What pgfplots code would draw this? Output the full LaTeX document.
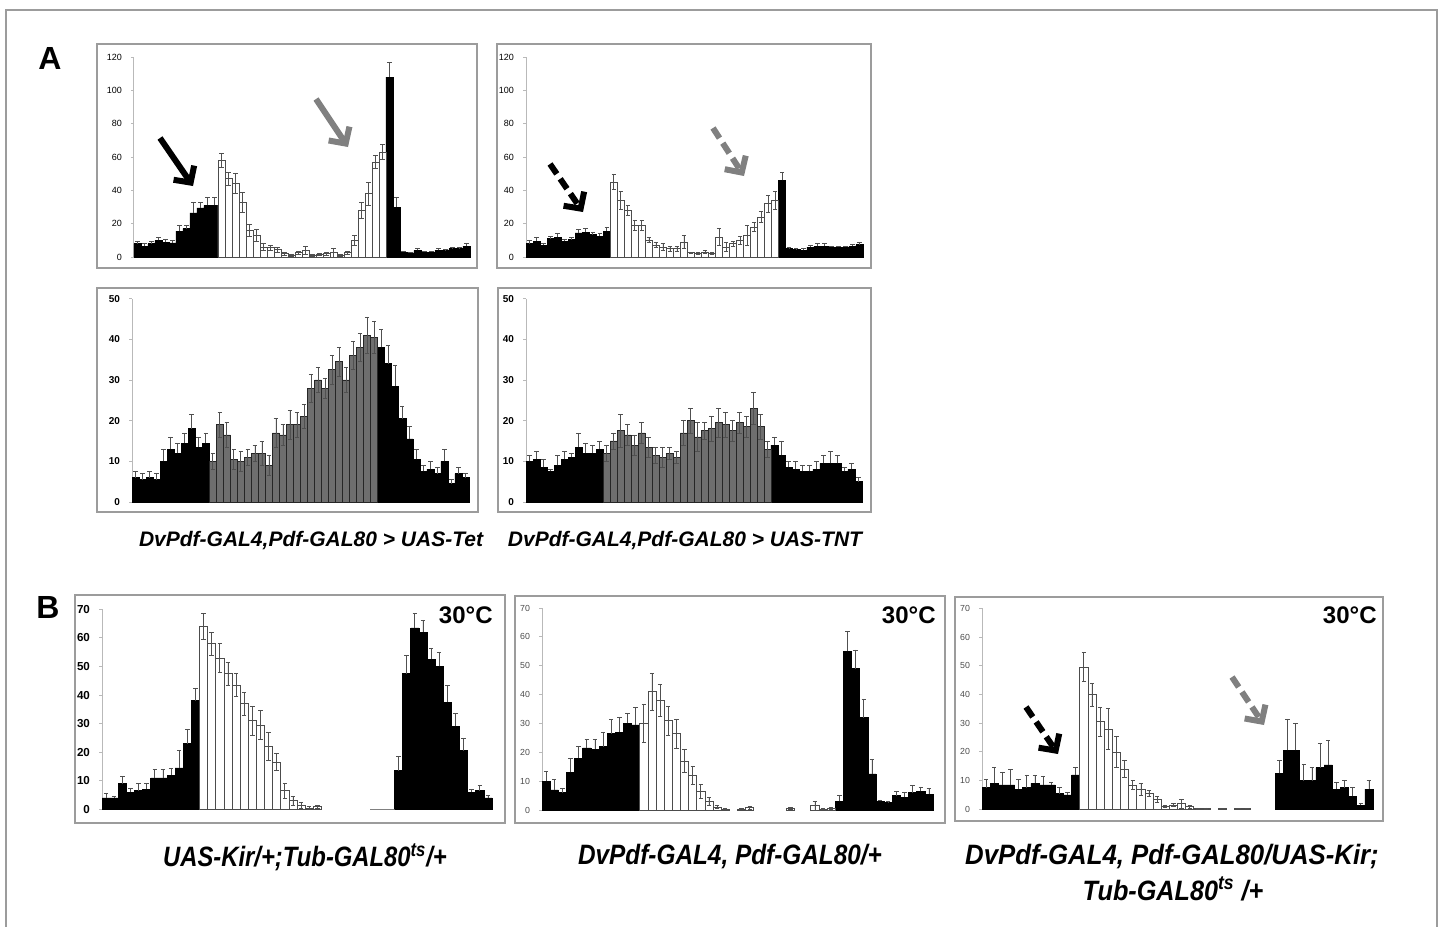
\documentclass[border=0pt]{standalone}
\usepackage{fontspec}
\setmainfont{Liberation Sans}
\usepackage{graphicx}
\usepackage{pgfplots}
\pgfplotsset{compat=1.18}
\usetikzlibrary{arrows.meta}

\definecolor{framegray}{HTML}{9C9C9C}
\definecolor{bargray}{HTML}{6E6E6E}
\definecolor{arrowgray}{HTML}{808080}
\definecolor{errgray}{HTML}{505050}

\pgfplotsset{
  actogram/.style={
    scale only axis, anchor=south west,
    xmin=-0.5, xmax=47.5, ymin=0,
    axis y line=left, axis x line=bottom,
    axis line style={-, draw=gray!55, line width=0.5pt},
    xtick=\empty,
    tick align=outside, major tick length=1.5pt,
    ytick style={draw=gray!55, line width=0.4pt},
    /pgf/number format/assume math mode=true,
    yticklabel style={xshift=-1pt},
    clip=false,
  },
  night/.style={ybar, bar width=1, bar shift=0pt, fill=black, draw=black, line width=0.3pt,
    error bars/.cd, y dir=plus, y explicit,
    error bar style={errgray, line width=0.35pt},
    error mark options={errgray, rotate=90, mark size=1.1pt, line width=0.35pt}},
  day/.style={ybar, bar width=1, bar shift=0pt, fill=white, draw=black!70, line width=0.35pt,
    error bars/.cd, y dir=both, y explicit,
    error bar style={errgray, line width=0.35pt},
    error mark options={errgray, rotate=90, mark size=1.1pt, line width=0.35pt}},
  dim/.style={ybar, bar width=1, bar shift=0pt, fill=bargray, draw=black!85, line width=0.35pt,
    error bars/.cd, y dir=both, y explicit,
    error bar style={errgray, line width=0.35pt},
    error mark options={errgray, rotate=90, mark size=1.1pt, line width=0.35pt}},
}
\tikzset{
  bigarrow/.style={line width=3pt, -{Straight Barb[length=6pt, width=12.5pt]}},
  dasharrow/.style={bigarrow, dash pattern=on 6pt off 3pt},
}

\begin{document}
\begin{tikzpicture}[x=0.5pt, y=-0.5pt]
\useasboundingbox (0,0) rectangle (1442,927);
\draw[framegray, line width=0.9pt] (6,927) -- (6,10) -- (1437,10) -- (1437,927);

% panel frames
\foreach \a/\b/\c/\d in {97/44/477/268, 497/44/871/268, 97/288/478/512, 498/288/871/512,
  75/595/505/823, 515/596/945/823, 955/597/1383/821}
  \draw[framegray, line width=0.9pt] (\a,\b) rectangle (\c,\d);

% lower left corners of the axis boxes
\coordinate (pTL) at (134,257);
\coordinate (pTR) at (526,257);
\coordinate (pBL) at (132,502);
\coordinate (pBR) at (526,502);
\coordinate (pB1) at (102,809.3);
\coordinate (pB2) at (542,810);
\coordinate (pB3) at (982,809.3);

\node[font=\bfseries\fontsize{16}{18}\selectfont] at (50,58) {A};
\node[font=\bfseries\fontsize{16}{18}\selectfont] at (48,607) {B};

% ---------------- A, top left (UAS-Tet, LD) ----------------
\begin{axis}[actogram, at={(pTL)}, width=168pt, height=100pt,
  ymax=120, ytick={0,20,...,120},
  yticklabel style={font=\fontsize{4.5}{5}\selectfont}]
\addplot[night] coordinates {
 (0,8)+-(0,1.5) (1,6.5)+-(0,1.5) (2,8)+-(0,1.5) (3,10)+-(0,1.5) (4,9)+-(0,1.5) (5,8.5)+-(0,1.5)
 (6,15.5)+-(0,3.5) (7,17)+-(0,2) (8,26.5)+-(0,6) (9,29.5)+-(0,3) (10,31)+-(0,4.5) (11,31)+-(0,4.5)
 (36,108)+-(0,9) (37,30)+-(0,6) (38,3)+-(0,0.5) (39,2.5)+-(0,0.5) (40,4)+-(0,1) (41,3)+-(0,0.5)
 (42,3)+-(0,0.5) (43,4)+-(0,1) (44,4)+-(0,0.5) (45,5)+-(0,1) (46,5)+-(0,1) (47,6.5)+-(0,1.5)};
\addplot[day] coordinates {
 (12,58)+-(0,4) (13,47)+-(0,4) (14,44)+-(0,6) (15,33)+-(0,6) (16,16)+-(0,3.5) (17,13)+-(0,3.5)
 (18,6)+-(0,2) (19,5.5)+-(0,1.5) (20,4.5)+-(0,1.5) (21,2)+-(0,1) (22,1)+-(0,0.5) (23,2.5)+-(0,1)
 (24,4)+-(0,2.5) (25,1)+-(0,0.5) (26,1.5)+-(0,0.5) (27,2)+-(0,1) (28,2.5)+-(0,2.5) (29,1)+-(0,0.5)
 (30,2.5)+-(0,1) (31,10)+-(0,3) (32,28)+-(0,5) (33,38)+-(0,7) (34,57)+-(0,4) (35,63)+-(0,4.5)};
\end{axis}

% ---------------- A, top right (UAS-TNT, LD) ----------------
\begin{axis}[actogram, at={(pTR)}, width=168.5pt, height=100pt,
  ymax=120, ytick={0,20,...,120},
  yticklabel style={font=\fontsize{4.5}{5}\selectfont}]
\addplot[night] coordinates {
 (0,8)+-(0,2) (1,9.5)+-(0,2.5) (2,7)+-(0,1) (3,11)+-(0,1.5) (4,12)+-(0,2) (5,9.5)+-(0,1)
 (6,10.5)+-(0,1.5) (7,14.5)+-(0,2) (8,15)+-(0,2) (9,13.5)+-(0,1.5) (10,12.5)+-(0,1.5) (11,15.5)+-(0,2.5)
 (36,46)+-(0,5) (37,5)+-(0,1) (38,4.5)+-(0,0.5) (39,4)+-(0,1) (40,6)+-(0,1) (41,6.5)+-(0,1.5)
 (42,6.5)+-(0,1.5) (43,6)+-(0,0.5) (44,6)+-(0,0.5) (45,6)+-(0,0.5) (46,6.5)+-(0,1) (47,7.5)+-(0,1.5)};
\addplot[day] coordinates {
 (12,45)+-(0,4.5) (13,34)+-(0,5.5) (14,28)+-(0,3) (15,19)+-(0,3) (16,19)+-(0,3) (17,10)+-(0,1.5)
 (18,7)+-(0,1.5) (19,6)+-(0,2) (20,5)+-(0,1.5) (21,5)+-(0,1.5) (22,9)+-(0,4) (23,2.5)+-(0,0.5)
 (24,2)+-(0,0.5) (25,3)+-(0,1) (26,2)+-(0,0.5) (27,12)+-(0,5) (28,6)+-(0,2.5) (29,8)+-(0,1.5)
 (30,10)+-(0,2.5) (31,13)+-(0,6) (32,18)+-(0,2.5) (33,24)+-(0,3.5) (34,32)+-(0,5) (35,34)+-(0,5.5)};
\end{axis}

% ---------------- A, bottom left (UAS-Tet, DD) ----------------
\begin{axis}[actogram, at={(pBL)}, width=168.5pt, height=101.7pt,
  ymax=50, ytick={0,10,...,50},
  yticklabel style={font=\bfseries\fontsize{5}{6}\selectfont}]
\addplot[night] coordinates {
 (0,6)+-(0,1.5) (1,5.5)+-(0,1.5) (2,6)+-(0,1.5) (3,5.5)+-(0,1.5) (4,10)+-(0,3) (5,13)+-(0,3)
 (6,12)+-(0,2.5) (7,14.5)+-(0,2.5) (8,18)+-(0,3.5) (9,13.5)+-(0,2.5) (10,14.5)+-(0,2.5)
 (35,38)+-(0,4.5) (36,34)+-(0,4.5) (37,28.5)+-(0,5) (38,20.5)+-(0,3) (39,15.5)+-(0,3) (40,10.5)+-(0,2.5)
 (41,7.5)+-(0,1.5) (42,8)+-(0,2) (43,7)+-(0,1.5) (44,10)+-(0,3) (45,4.5)+-(0,1) (46,7)+-(0,1.5) (47,6)+-(0,1)};
\addplot[dim] coordinates {
 (11,10)+-(0,2) (12,19)+-(0,3) (13,16.5)+-(0,3) (14,10.5)+-(0,2.5) (15,10)+-(0,2.5) (16,11)+-(0,2)
 (17,12)+-(0,2) (18,12)+-(0,3) (19,9)+-(0,2.5) (20,17)+-(0,3.5) (21,16.5)+-(0,2.5) (22,19)+-(0,3.5)
 (23,19)+-(0,3) (24,21)+-(0,3) (25,28)+-(0,3.5) (26,30)+-(0,3) (27,28)+-(0,2.5) (28,32.5)+-(0,3.5)
 (29,34.5)+-(0,3.5) (30,30)+-(0,3) (31,36)+-(0,3.5) (32,38)+-(0,3.5) (33,41)+-(0,4.5) (34,40.5)+-(0,4)};
\end{axis}

% ---------------- A, bottom right (UAS-TNT, DD) ----------------
\begin{axis}[actogram, at={(pBR)}, width=168pt, height=101.7pt,
  ymax=50, ytick={0,10,...,50},
  yticklabel style={font=\bfseries\fontsize{5}{6}\selectfont}]
\addplot[night] coordinates {
 (0,10)+-(0,1.5) (1,10.5)+-(0,2) (2,8.5)+-(0,2) (3,7.5)+-(0,0.5) (4,9)+-(0,2.5) (5,10.5)+-(0,2)
 (6,11)+-(0,1) (7,13.5)+-(0,3.5) (8,12)+-(0,2.5) (9,12)+-(0,2) (10,13)+-(0,2)
 (35,14)+-(0,2) (36,11.5)+-(0,3.5) (37,8.5)+-(0,1.5) (38,8)+-(0,2) (39,7.5)+-(0,1.5) (40,7.5)+-(0,1.5)
 (41,8)+-(0,2) (42,9.5)+-(0,2) (43,9.5)+-(0,3) (44,9.5)+-(0,2) (45,7.5)+-(0,1) (46,8)+-(0,1.5) (47,5)+-(0,1)};
\addplot[dim] coordinates {
 (11,12)+-(0,2) (12,15)+-(0,2) (13,17.5)+-(0,4) (14,16.5)+-(0,2.5) (15,14)+-(0,2.5) (16,17)+-(0,2.5)
 (17,13.5)+-(0,2.5) (18,11.5)+-(0,2) (19,11)+-(0,2.5) (20,12)+-(0,1.5) (21,11)+-(0,1.5) (22,17)+-(0,3)
 (23,20)+-(0,3) (24,16)+-(0,3.5) (25,17.5)+-(0,2) (26,18)+-(0,3) (27,19.5)+-(0,3.5) (28,19)+-(0,3)
 (29,17.5)+-(0,2.5) (30,19.5)+-(0,2.5) (31,18.5)+-(0,2.5) (32,23)+-(0,4) (33,18.5)+-(0,3) (34,13)+-(0,2)};
\end{axis}

% ---------------- B1: UAS-Kir/+;Tub-GAL80ts/+ ----------------
\begin{axis}[actogram, at={(pB1)}, width=195pt, height=100pt,
  axis x line=none,
  ymax=70, ytick={0,10,...,70},
  yticklabel style={font=\bfseries\fontsize{5.8}{6}\selectfont}]
\addplot[night] coordinates {
 (0,4)+-(0,1.5) (1,4)+-(0,0.5) (2,9)+-(0,2.5) (3,6)+-(0,1.5) (4,6.5)+-(0,2.5) (5,7)+-(0,2)
 (6,11)+-(0,3) (7,11)+-(0,3) (8,12)+-(0,2.5) (9,14.5)+-(0,6) (10,23)+-(0,5) (11,38)+-(0,4.5)
 (36,13.5)+-(0,5) (37,47.5)+-(0,6.5) (38,63.5)+-(0,5) (39,62)+-(0,4) (40,52.5)+-(0,4) (41,50)+-(0,5)
 (42,37.5)+-(0,6) (43,29)+-(0,4.5) (44,20.5)+-(0,4.5) (45,6)+-(0,1) (46,6.5)+-(0,2) (47,4)+-(0,1)};
\addplot[day] coordinates {
 (12,64)+-(0,4.5) (13,58)+-(0,4) (14,53)+-(0,5) (15,47.5)+-(0,4) (16,43.5)+-(0,4) (17,37)+-(0,4)
 (18,31)+-(0,5) (19,29.5)+-(0,5) (20,22)+-(0,5) (21,16.5)+-(0,3) (22,6.5)+-(0,2.5) (23,3)+-(0,1.5)
 (24,1.5)+-(0,1) (25,0.5)+-(0,0.5) (26,1)+-(0,0.5)};
\addplot[ybar, bar width=1, bar shift=0pt, draw=gray, line width=0.5pt] coordinates {(33,0) (34,0) (35,0)};
\end{axis}

% ---------------- B2: DvPdf-GAL4, Pdf-GAL80/+ ----------------
\begin{axis}[actogram, at={(pB2)}, width=195.5pt, height=101pt,
  axis x line=none,
  ymax=70, ytick={0,10,...,70},
  yticklabel style={font=\fontsize{4.4}{5}\selectfont, text=black!70}]
\addplot[night] coordinates {
 (0,10)+-(0,3.5) (1,7)+-(0,3.5) (2,6)+-(0,1.5) (3,13)+-(0,5) (4,18)+-(0,4) (5,21.5)+-(0,3)
 (6,21)+-(0,3.5) (7,22)+-(0,5) (8,26.5)+-(0,5) (9,27)+-(0,5) (10,30)+-(0,3.5) (11,29.5)+-(0,6)
 (36,3)+-(0,2) (37,55)+-(0,7) (38,49)+-(0,6.5) (39,32)+-(0,6.5) (40,12.5)+-(0,5) (41,3)+-(0,0.5)
 (42,2.5)+-(0,0.5) (43,5)+-(0,1.5) (44,4.5)+-(0,1.5) (45,6)+-(0,2.5) (46,6.5)+-(0,1.5) (47,5.5)+-(0,2)};
\addplot[day] coordinates {
 (12,30)+-(0,6.5) (13,41)+-(0,6.5) (14,38)+-(0,5.5) (15,31)+-(0,5) (16,26.5)+-(0,5) (17,17)+-(0,4)
 (18,12)+-(0,3) (19,6.5)+-(0,2.5) (20,3)+-(0,1.5) (21,1)+-(0,0.5) (22,0.3)+-(0,0.2)
 (24,0.3)+-(0,0.2) (25,0.8)+-(0,0.5) (30,0.5)+-(0,0.3) (33,1.5)+-(0,1.5) (34,0.3)+-(0,0.2) (35,0.5)+-(0,0.3)};
\end{axis}

% ---------------- B3: DvPdf-GAL4, Pdf-GAL80/UAS-Kir; Tub-GAL80ts/+ ----------------
\begin{axis}[actogram, at={(pB3)}, width=195.5pt, height=100.5pt,
  axis x line=none,
  ymax=70, ytick={0,10,...,70},
  yticklabel style={font=\fontsize{4.4}{5}\selectfont, text=black!70}]
\addplot[night] coordinates {
 (0,7.5)+-(0,3) (1,9)+-(0,5.5) (2,8.5)+-(0,4.5) (3,8.5)+-(0,5.5) (4,7)+-(0,3.5) (5,7.5)+-(0,4.5)
 (6,9)+-(0,3) (7,8.5)+-(0,3) (8,8.5)+-(0,1) (9,5.5)+-(0,2) (10,5)+-(0,1) (11,12)+-(0,2.5)
 (36,12.5)+-(0,4.5) (37,20.5)+-(0,11) (38,20.5)+-(0,9.5) (39,10)+-(0,5.5) (40,10)+-(0,4.5) (41,14.5)+-(0,8.5)
 (42,15.5)+-(0,8.5) (43,7)+-(0,2.5) (44,7.5)+-(0,2.5) (45,4.5)+-(0,3) (46,1.5)+-(0,0.5) (47,7)+-(0,3)};
\addplot[day] coordinates {
 (12,49.5)+-(0,5) (13,40)+-(0,4) (14,30.5)+-(0,5) (15,28)+-(0,7) (16,20)+-(0,5.5) (17,14)+-(0,3)
 (18,8.5)+-(0,1.5) (19,7)+-(0,2) (20,5.5)+-(0,1) (21,3.5)+-(0,1) (22,1)+-(0,0.3) (23,1.5)+-(0,0.5)
 (24,2)+-(0,1.5) (25,1)+-(0,0.5) (26,0.3)+-(0,0.2) (27,0.3)+-(0,0.2) (29,0.3)+-(0,0)
 (31,0.3)+-(0,0) (32,0.3)+-(0,0)};
\end{axis}

% arrows
\draw[bigarrow, black] (160,138) -- (193,186);
\draw[bigarrow, arrowgray] (316,99) -- (348,147);
\draw[dasharrow, black] (550,164) -- (583,212);
\draw[dasharrow, arrowgray] (713,128) -- (744,176);
\draw[dasharrow, black] (1026,707) -- (1058,754);
\draw[dasharrow, arrowgray] (1232,677) -- (1264,725);

% 30 C labels
\foreach \xx in {493,936,1377}
  \node[anchor=base east, font=\bfseries\fontsize{12}{14}\selectfont, inner sep=0pt] at (\xx,623) {30°C};

% genotype labels
\begin{scope}[every node/.style={font=\bfseries\itshape\fontsize{10.5}{12}\selectfont, inner sep=0pt}]
\node at (311,541) {DvPdf-GAL4,Pdf-GAL80 > UAS-Tet};
\node at (685,541) {DvPdf-GAL4,Pdf-GAL80 > UAS-TNT};
\end{scope}
\begin{scope}[every node/.style={font=\bfseries\itshape\fontsize{14}{16}\selectfont, inner sep=0pt}]
\node at (305,857) {\scalebox{0.85}[1]{UAS-Kir/+;Tub-GAL80\textsuperscript{ts}/+}};
\node at (730,857) {\scalebox{0.87}[1]{DvPdf-GAL4, Pdf-GAL80/+}};
\node at (1172,857) {\scalebox{0.92}[1]{DvPdf-GAL4, Pdf-GAL80/UAS-Kir;}};
\node at (1173,889) {\scalebox{0.9}[1]{Tub-GAL80\textsuperscript{ts} /+}};
\end{scope}
\end{tikzpicture}
\end{document}
